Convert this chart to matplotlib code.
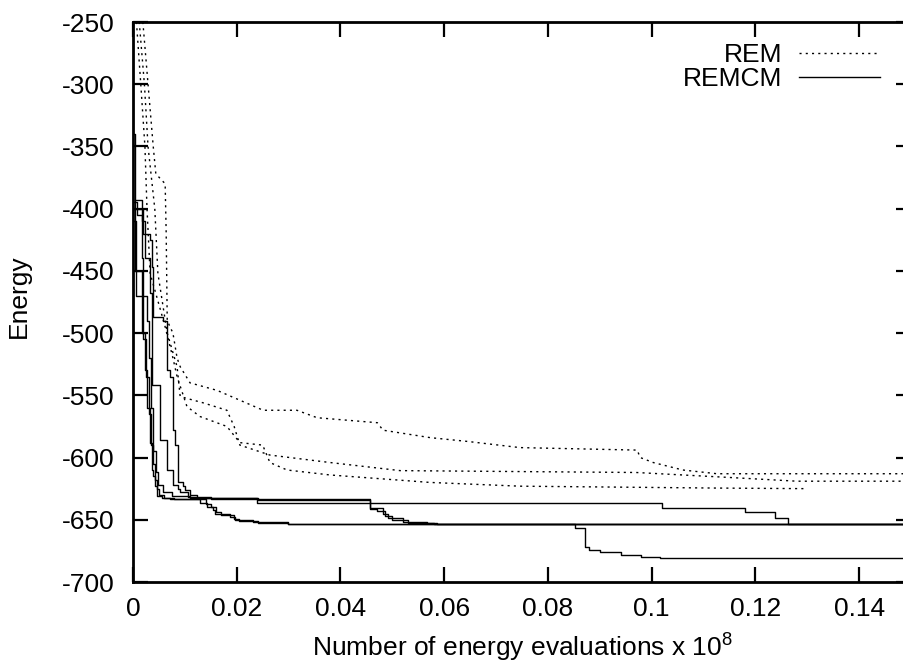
import numpy as np
import matplotlib
matplotlib.use("Agg")
from matplotlib import pyplot as plt

plt.rcParams['font.family'] = ['Liberation Sans', 'DejaVu Sans']
plt.rcParams['mathtext.fontset'] = 'custom'
plt.rcParams['mathtext.rm'] = 'Liberation Sans'
plt.rcParams['mathtext.default'] = 'regular'

# REM runs (dotted)
rem_a_x = [0.0017, 0.0029, 0.0039, 0.0044, 0.0062, 0.0064, 0.0066, 0.0077, 0.0085, 0.0091, 0.0110, 0.0162,
           0.0251, 0.0316, 0.0355, 0.0471, 0.0482, 0.0573, 0.0644, 0.0746, 0.0972, 0.0978, 0.1003, 0.1060,
           0.1126, 0.15]
rem_a_y = [-240, -300, -350, -372, -380, -420, -490, -500, -520, -527, -540, -546,
           -562, -562, -568, -572, -578, -584, -587, -592, -594, -600, -604, -610,
           -613, -613]
rem_b_x = [0.0010, 0.0022, 0.0029, 0.0042, 0.0048, 0.0066, 0.0085, 0.0091, 0.0135, 0.0181, 0.0195, 0.0206,
           0.0264, 0.0380, 0.0515, 0.0970, 0.1150, 0.1280, 0.15]
rem_b_y = [-240, -300, -350, -400, -452, -500, -527, -551, -556, -562, -575, -590,
           -598, -604, -610.5, -612, -616, -619, -619]
rem_c_x = [0.0005, 0.0015, 0.0023, 0.0027, 0.0033, 0.0052, 0.0062, 0.0077, 0.0085, 0.0104, 0.0129, 0.0181,
           0.0206, 0.0250, 0.0264, 0.0297, 0.0380, 0.0573, 0.0746, 0.1120, 0.1300]
rem_c_y = [-240, -300, -350, -400, -452, -480, -495, -520, -535, -559, -567, -575,
           -588, -590, -604, -610, -614, -620, -623, -624.5, -625]

# REMCM runs (solid, best energy so far -> step curves)
cm1_x = [0.0004, 0.0017, 0.0019, 0.0033, 0.0037, 0.0039, 0.0058, 0.0066, 0.0071, 0.0077, 0.0081, 0.0087,
         0.0096, 0.0100, 0.0110, 0.0123, 0.0239, 0.1020, 0.1180, 0.1238, 0.1263, 0.15]
cm1_y = [-393, -400, -420, -425, -447, -487, -490, -530, -535, -578, -590, -620,
         -623, -626, -630, -632.5, -636.5, -640.5, -644, -648.5, -653.5, -653.5]
cm2_x = [0.0, 0.0004, 0.0017, 0.0023, 0.0033, 0.0037, 0.0052, 0.0066, 0.0077, 0.0087, 0.0091, 0.0106,
         0.0150, 0.0457, 0.0482, 0.0492, 0.0521, 0.0567, 0.0586, 0.15]
cm2_y = [-340, -400, -410, -440, -468, -541.7, -586, -610, -622, -625, -628, -632,
         -633.5, -640.6, -645, -648.6, -652, -652.5, -653.6, -653.6]
cm3_x = [0.0, 0.0004, 0.0017, 0.0023, 0.0027, 0.0033, 0.0037, 0.0039, 0.0042, 0.0046, 0.0056, 0.0071,
         0.0129, 0.0143, 0.0154, 0.0158, 0.0187, 0.0197, 0.0231, 0.0299, 0.15]
cm3_y = [-400, -450, -500, -530, -560, -588, -610, -615, -623, -631, -632.5, -633,
         -636.6, -639.7, -642, -645, -648, -650, -651.7, -653.6, -653.6]
cm4_x = [0.0, 0.0006, 0.0019, 0.0025, 0.0031, 0.0035, 0.0039, 0.0042, 0.0046, 0.0050, 0.0060, 0.0080,
         0.0140, 0.0150, 0.0160, 0.0170, 0.0195, 0.0205, 0.0241, 0.0299, 0.0852, 0.0872, 0.0880, 0.0901,
         0.0940, 0.0980, 0.1016, 0.15]
cm4_y = [-410, -470, -505, -535, -565, -590, -605, -618, -625, -630, -632.5, -633,
         -637, -640, -644, -646, -649, -651, -652.5, -653.6, -657, -672, -674, -676,
         -678, -680, -681, -681]
cm5_x = [0.0, 0.0008, 0.0017, 0.0019, 0.0027, 0.0031, 0.0035, 0.0039, 0.0044, 0.0048, 0.0058, 0.0075,
         0.0110, 0.0241, 0.0457, 0.0470, 0.0486, 0.0500, 0.0530, 0.0580, 0.15]
cm5_y = [-395, -405, -440, -470, -490, -520, -560, -595, -612, -622, -628, -631,
         -632.5, -634.5, -641, -643, -647, -650, -652.5, -653.6, -653.6]

xticks = [0, 0.02, 0.04, 0.06, 0.08, 0.1, 0.12, 0.14]
xlabels = ['0', '0.02', '0.04', '0.06', '0.08', '0.1', '0.12', '0.14']
yticks = [-700, -650, -600, -550, -500, -450, -400, -350, -300, -250]
ylabels = ['-700', '-650', '-600', '-550', '-500', '-450', '-400', '-350', '-300', '-250']

fs = 19
fig = plt.figure(figsize=(9.04, 6.69), dpi=100)
ax = fig.add_axes([133/904, 87/669, 778/904, 560/669])

dot = (0, (1.5, 3.0))
lw = 1.0
l1, = ax.plot(rem_a_x, rem_a_y, color='black', lw=lw, ls=dot)
ax.plot(rem_b_x, rem_b_y, color='black', lw=lw, ls=dot)
ax.plot(rem_c_x, rem_c_y, color='black', lw=lw, ls=dot)
l2, = ax.plot(cm1_x, cm1_y, color='black', lw=lw, drawstyle='steps-post')
for xs, ys in [(cm2_x, cm2_y), (cm3_x, cm3_y), (cm4_x, cm4_y), (cm5_x, cm5_y)]:
    ax.plot(xs, ys, color='black', lw=lw, drawstyle='steps-post')

ax.set_xlim(0, 0.15)
ax.set_ylim(-700, -250)
ax.set_xticks(xticks)
ax.set_xticklabels(xlabels)
ax.set_yticks(yticks)
ax.set_yticklabels(ylabels)
ax.tick_params(direction='in', top=True, right=True, length=11, width=1.6, labelsize=fs)
ax.tick_params(axis='y', pad=13)
ax.tick_params(axis='x', pad=10.5)
for s in ax.spines.values():
    s.set_linewidth(2)

fig.text(522/904, 1 - 648/669, r'Number of energy evaluations x 10$^{8}$', fontsize=fs, ha='center', va='center')
fig.text(19/904, 1 - 296/669, 'Energy', fontsize=fs, ha='center', va='center', rotation=90)

ax.legend([l1, l2], ['REM', 'REMCM'], loc='upper right', bbox_to_anchor=(880/904, 1 - 43/669),
          bbox_transform=fig.transFigure, frameon=False, markerfirst=False, fontsize=fs,
          handlelength=3.07, handletextpad=0.64, labelspacing=0.0, borderpad=0, borderaxespad=0)

plt.savefig('out.png')
